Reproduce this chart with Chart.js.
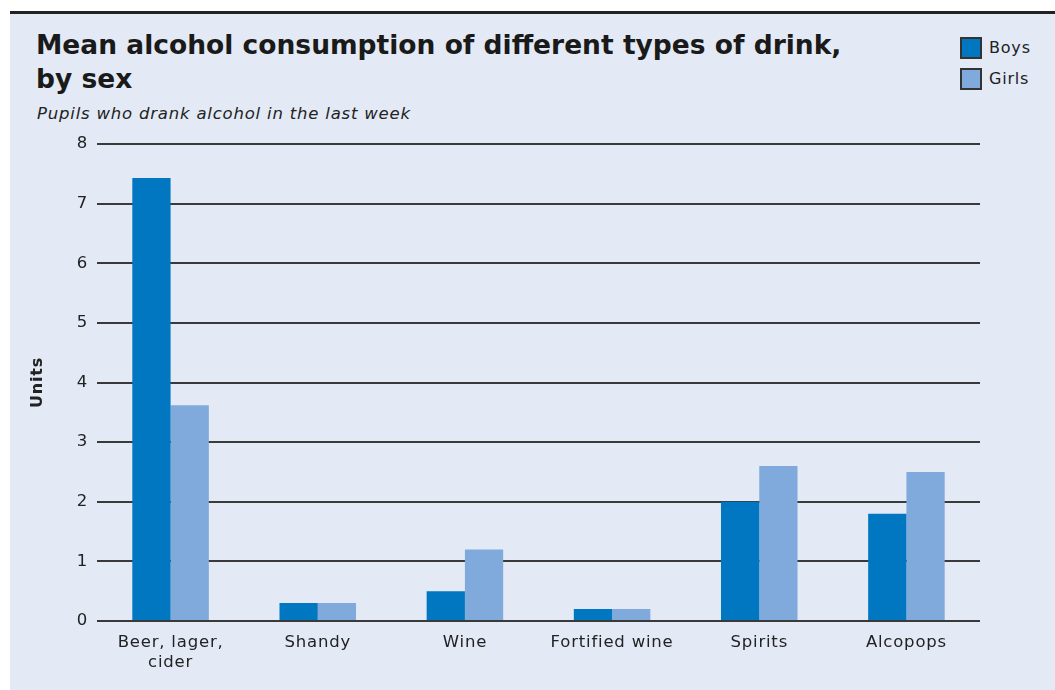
<!DOCTYPE html>
<html>
<head>
<meta charset="utf-8">
<script src="https://cdn.jsdelivr.net/npm/chart.js@4"></script>
<style>
  html, body { margin: 0; padding: 0; background: #fff; }
  #wrap { position: relative; width: 1055px; height: 690px; overflow: hidden; font-family: "DejaVu Sans", sans-serif; }
  #panel { position: absolute; left: 10px; top: 11px; right: 0; bottom: 0; background: #e3eaf6; border-top: 3px solid #222; }
  #title { position: absolute; left: 36px; top: 28px; font-size: 26.5px; font-weight: bold; line-height: 34px; color: #1a1a1a; }
  #sub { position: absolute; left: 37px; top: 104px; font-size: 16.5px; font-style: italic; color: #222; letter-spacing: 0.8px; }
  .leg { position: absolute; left: 960px; font-size: 16px; color: #222; line-height: 22px; letter-spacing: 0.8px; }
  .leg span { display: inline-block; width: 22px; height: 22px; border: 2px solid #333; vertical-align: top; margin-right: 7px; box-sizing: border-box; }
  canvas { position: absolute; left: 0; top: 0; }
</style>
</head>
<body>
<div id="wrap">
  <div id="panel"></div>
  <div id="title">Mean alcohol consumption of different types of drink,<br>by sex</div>
  <div id="sub">Pupils who drank alcohol in the last week</div>
  <div class="leg" style="top:37px"><span style="background:#0077c0"></span>Boys</div>
  <div class="leg" style="top:68px"><span style="background:#80aadb"></span>Girls</div>
  <canvas id="myChart" width="1055" height="690"></canvas>
</div>
<script>
// data
const categories = [['Beer, lager,', 'cider'], 'Shandy', 'Wine', 'Fortified wine', 'Spirits', 'Alcopops'];
const boys = [7.43, 0.3, 0.5, 0.2, 2.0, 1.8];
const girls = [3.62, 0.3, 1.2, 0.2, 2.6, 2.5];
const yTicks = [0, 1, 2, 3, 4, 5, 6, 7, 8];

const tickFont = { family: 'DejaVu Sans', size: 16.5 };

// wider tracking like the printed original
const spacing = {
  id: 'spacing',
  beforeDraw: chart => { chart.ctx.letterSpacing = '0.8px'; }
};

const ctx = document.getElementById('myChart');
new Chart(ctx, {
  type: 'bar',
  data: {
    labels: categories,
    datasets: [
      { label: 'Boys', data: boys, backgroundColor: '#0077c0', barPercentage: 1, categoryPercentage: 0.52 },
      { label: 'Girls', data: girls, backgroundColor: '#80aadb', barPercentage: 1, categoryPercentage: 0.52 }
    ]
  },
  plugins: [spacing],
  options: {
    responsive: false,
    animation: false,
    layout: { padding: { left: 28, right: 75, top: 144, bottom: 0 } },
    plugins: { legend: { display: false }, tooltip: { enabled: false } },
    scales: {
      x: {
        grid: { display: false },
        border: { display: false },
        ticks: { color: '#222', font: tickFont, padding: 4, maxRotation: 0 },
        afterFit: s => { s.height = 69; }
      },
      y: {
        min: 0, max: 8,
        afterBuildTicks: s => { s.ticks = yTicks.map(v => ({ value: v })); },
        grid: { color: '#3a3a3a', lineWidth: 2, drawTicks: false },
        border: { display: false },
        ticks: { color: '#222', font: tickFont, padding: 9 },
        title: { display: true, text: 'Units', color: '#222', font: { family: 'DejaVu Sans', size: 16, weight: 'bold' }, padding: 0 },
        afterFit: s => { s.width = 69; }
      }
    }
  }
});
</script>
</body>
</html>
